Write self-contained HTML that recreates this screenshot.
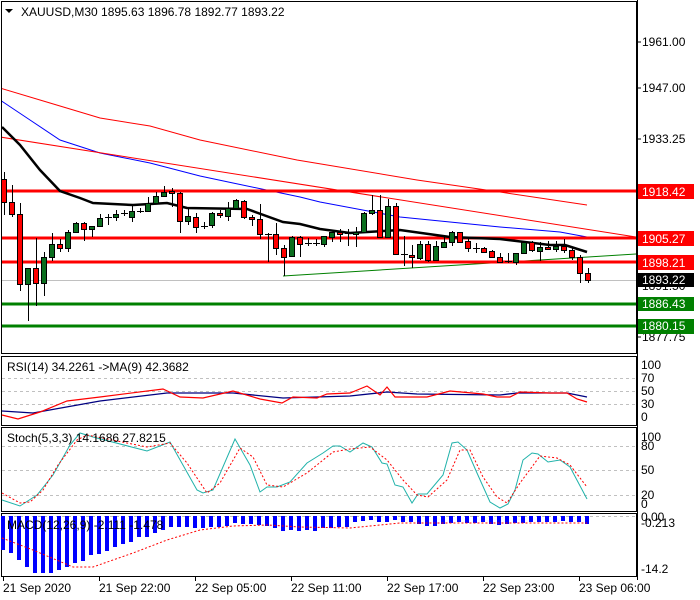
<!DOCTYPE html>
<html><head><meta charset="utf-8"><style>
html,body{margin:0;padding:0;background:#fff;}
svg{display:block;font-family:"Liberation Sans",sans-serif;font-size:12px;}
</style></head><body>
<svg width="700" height="600" viewBox="0 0 700 600" xmlns="http://www.w3.org/2000/svg">
<rect width="700" height="600" fill="#fff"/>
<defs><clipPath id="cm"><rect x="2" y="2" width="634" height="351"/></clipPath></defs>
<rect x="1.5" y="1.5" width="635" height="352" fill="none" stroke="#000"/>
<rect x="1.5" y="356.5" width="635" height="69" fill="none" stroke="#000"/>
<rect x="1.5" y="427.5" width="635" height="84" fill="none" stroke="#000"/>
<rect x="1.5" y="513.5" width="635" height="63" fill="none" stroke="#000"/>
<line x1="637.5" y1="0" x2="637.5" y2="580" stroke="#000"/>
<g clip-path="url(#cm)">
<polyline fill="none" stroke="#ff0000" stroke-width="1" points="0,88 50,103 100,118 150,126 200,140 297,160 417,180 500,192 587,205"/>
<polyline fill="none" stroke="#0000ff" stroke-width="1" points="0,100 30,120 60,140 100,153 150,163 200,176 233,183 300,197 320,202 400,217 500,227 560,232 587,237"/>
<line x1="0" y1="137" x2="636" y2="237" stroke="#ff0000" stroke-width="1"/>
<line x1="283" y1="276" x2="636" y2="254" stroke="#008000" stroke-width="1"/>
<line x1="2" y1="280.5" x2="636" y2="280.5" stroke="#c0c0c0"/>
<line x1="2" y1="191" x2="636" y2="191" stroke="#ff0000" stroke-width="3"/>
<line x1="2" y1="238" x2="636" y2="238" stroke="#ff0000" stroke-width="3"/>
<line x1="2" y1="262" x2="636" y2="262" stroke="#ff0000" stroke-width="3"/>
<line x1="2" y1="304" x2="636" y2="304" stroke="#008000" stroke-width="3"/>
<line x1="2" y1="326" x2="636" y2="326" stroke="#008000" stroke-width="3"/>
<polyline fill="none" stroke="#000" stroke-width="2.5" points="2,127 20,145 40,170 60,191 80,198 93,203 133,205 167,203 187,208 247,209 283,222 300,224 320,229 350,233 400,230 450,237 500,239 550,245 565,245 587,252"/>
<path fill="none" stroke="#000" stroke-width="1" d="M4.5 172V215M12.5 185V217M20.5 203V291M28.5 268V321M36.5 238V306M44.5 252V296M52.5 233V261M60.5 239V252M68.5 230V252M76.5 222V233M84.5 222V241M92.5 226V237M100.5 214V226M108.5 214V225M116.5 210V221M124.5 210V216M132.5 204V222M140.5 208V213M148.5 197V212M156.5 192V204M164.5 186V197M172.5 188V207M180.5 192V233M188.5 207V225M196.5 213V233M204.5 222V229M212.5 212V228M220.5 210V218M228.5 202V221M236.5 199V209M244.5 200V219M252.5 215V226M260.5 204V239M268.5 233V262M276.5 223V255M284.5 245V276M292.5 236V257M300.5 236V257M308.5 238V246M316.5 239V246M324.5 236V247M332.5 232V242M340.5 229V242M348.5 229V246M356.5 227V247M364.5 212V233M372.5 195V215M380.5 195V237M388.5 199V237M396.5 203V255M404.5 236V266M412.5 245V268M420.5 241V260M428.5 241V262M436.5 241V260M444.5 237V248M452.5 231V246M460.5 232V243M468.5 237V252M476.5 243V253M484.5 247V253M492.5 250V258M500.5 253V263M508.5 253V263M516.5 253V265M524.5 241V254M532.5 241V252M540.5 242V261M548.5 241V250M556.5 241V252M564.5 239V253M572.5 248V260M580.5 255V283M588.5 268V283
M105 217.5H112M137 211.5H144M121 213.5H128M201 226.5H208M265 234.5H272M305 243.5H312M313 243.5H320M345 233.5H352M401 254.5H408M473 248.5H480M505 261.5H512"/>
<g fill="#ff0000" stroke="#000" stroke-width="1">
<rect x="1.5" y="179.5" width="5" height="23"/>
<rect x="9.5" y="202.5" width="5" height="12"/>
<rect x="17.5" y="214.5" width="5" height="70"/>
<rect x="33.5" y="268.5" width="5" height="15"/>
<rect x="57.5" y="244.5" width="5" height="4"/>
<rect x="81.5" y="223.5" width="5" height="6"/>
<rect x="169.5" y="191.5" width="5" height="2"/>
<rect x="177.5" y="193.5" width="5" height="28"/>
<rect x="193.5" y="217.5" width="5" height="10"/>
<rect x="217.5" y="213.5" width="5" height="2"/>
<rect x="241.5" y="201.5" width="5" height="16"/>
<rect x="249.5" y="217.5" width="5" height="2"/>
<rect x="257.5" y="219.5" width="5" height="15"/>
<rect x="273.5" y="234.5" width="5" height="14"/>
<rect x="281.5" y="248.5" width="5" height="9"/>
<rect x="297.5" y="237.5" width="5" height="7"/>
<rect x="337.5" y="232.5" width="5" height="2"/>
<rect x="377.5" y="210.5" width="5" height="27"/>
<rect x="393.5" y="206.5" width="5" height="48"/>
<rect x="409.5" y="255.5" width="5" height="2"/>
<rect x="425.5" y="244.5" width="5" height="16"/>
<rect x="457.5" y="232.5" width="5" height="10"/>
<rect x="465.5" y="241.5" width="5" height="7"/>
<rect x="481.5" y="248.5" width="5" height="4"/>
<rect x="489.5" y="251.5" width="5" height="6"/>
<rect x="497.5" y="257.5" width="5" height="5"/>
<rect x="529.5" y="242.5" width="5" height="8"/>
<rect x="545.5" y="247.5" width="5" height="2"/>
<rect x="561.5" y="246.5" width="5" height="4"/>
<rect x="569.5" y="250.5" width="5" height="7"/>
<rect x="577.5" y="257.5" width="5" height="16"/>
<rect x="585.5" y="273.5" width="5" height="7"/>
</g>
<g fill="#0a6e1e" stroke="#000" stroke-width="1">
<rect x="25.5" y="268.5" width="5" height="16"/>
<rect x="41.5" y="257.5" width="5" height="26"/>
<rect x="49.5" y="244.5" width="5" height="13"/>
<rect x="65.5" y="232.5" width="5" height="16"/>
<rect x="73.5" y="223.5" width="5" height="9"/>
<rect x="89.5" y="226.5" width="5" height="3"/>
<rect x="97.5" y="218.5" width="5" height="8"/>
<rect x="113.5" y="214.5" width="5" height="3"/>
<rect x="129.5" y="211.5" width="5" height="6"/>
<rect x="145.5" y="203.5" width="5" height="8"/>
<rect x="153.5" y="196.5" width="5" height="7"/>
<rect x="161.5" y="192.5" width="5" height="4"/>
<rect x="185.5" y="216.5" width="5" height="5"/>
<rect x="209.5" y="213.5" width="5" height="12"/>
<rect x="225.5" y="208.5" width="5" height="8"/>
<rect x="233.5" y="200.5" width="5" height="8"/>
<rect x="289.5" y="237.5" width="5" height="19"/>
<rect x="321.5" y="236.5" width="5" height="8"/>
<rect x="329.5" y="232.5" width="5" height="5"/>
<rect x="353.5" y="232.5" width="5" height="2"/>
<rect x="361.5" y="213.5" width="5" height="19"/>
<rect x="369.5" y="210.5" width="5" height="3"/>
<rect x="385.5" y="206.5" width="5" height="31"/>
<rect x="417.5" y="244.5" width="5" height="14"/>
<rect x="433.5" y="246.5" width="5" height="14"/>
<rect x="441.5" y="242.5" width="5" height="5"/>
<rect x="449.5" y="232.5" width="5" height="10"/>
<rect x="513.5" y="253.5" width="5" height="9"/>
<rect x="521.5" y="242.5" width="5" height="11"/>
<rect x="537.5" y="247.5" width="5" height="4"/>
<rect x="553.5" y="246.5" width="5" height="3"/>
</g>
</g>
<path d="M5 9h8l-4 4z" fill="#000"/>
<text x="21" y="16" fill="#000">XAUUSD,M30  1895.63 1896.78 1892.77 1893.22</text>
<g fill="#000">
<text x="642" y="46">1961.00</text>
<text x="642" y="92">1947.00</text>
<text x="642" y="143">1933.25</text>
<text x="642" y="290">1891.50</text>
<text x="642" y="341">1877.75</text>
</g>
<g stroke="#000"><path d="M637 42h4M637 88h4M637 139h4M637 286h4M637 337h4"/></g>
<rect x="638" y="184" width="56" height="15" fill="#ff0000"/><text x="642" y="196" fill="#fff">1918.42</text>
<rect x="638" y="231" width="56" height="15" fill="#ff0000"/><text x="642" y="243" fill="#fff">1905.27</text>
<rect x="638" y="255" width="56" height="15" fill="#ff0000"/><text x="642" y="267" fill="#fff">1898.21</text>
<rect x="638" y="273" width="56" height="14" fill="#000"/><text x="642" y="284" fill="#fff">1893.22</text>
<rect x="638" y="297" width="56" height="14" fill="#008000"/><text x="642" y="308" fill="#fff">1886.43</text>
<rect x="638" y="319" width="56" height="15" fill="#008000"/><text x="642" y="330" fill="#fff">1880.15</text>
<g stroke="#c0c0c0" stroke-dasharray="3,3"><path d="M2 378.5H636M2 391.5H636M2 404.5H636"/></g>
<polyline fill="none" stroke="#000080" stroke-width="1.3" points="2,411 33,413 100,401 167,393 233,393 283,398 350,396 387,392 417,394 500,395 517,393 567,393 587,397"/>
<polyline fill="none" stroke="#ff0000" stroke-width="1.2" points="2,415 18,419 40,412 67,401 100,397 163,389 180,397 203,398 233,391 260,399 282,403 293,397 317,398 327,394 350,393 367,386 380,395 387,387 395,397 413,397 427,397 450,391 483,394 497,397 510,397 520,392 550,393 567,393 577,399 587,402"/>
<text x="7" y="371" fill="#000">RSI(14) 34.2261  -&gt;MA(9) 42.3682</text>
<g fill="#000"><text x="641" y="369">100</text><text x="641" y="382">70</text><text x="641" y="395">50</text><text x="641" y="408">30</text><text x="641" y="421">0</text></g>
<g stroke="#c0c0c0" stroke-dasharray="3,3"><path d="M2 446.5H636M2 470.5H636M2 495.5H636"/></g>
<polyline fill="none" stroke="#20b2aa" stroke-width="1" points="2,500 20,506 37,495 53,475 70,445 80,433 93,437 147,451 170,442 197,490 203,493 213,490 235,439 250,465 260,492 267,487 277,487 290,482 307,463 323,453 333,446 340,446 350,452 363,443 372,447 382,463 387,464 395,485 403,487 412,503 418,494 427,494 443,475 452,443 458,442 467,450 477,473 490,502 500,508 508,504 515,490 523,460 532,453 538,454 548,462 560,460 570,467 587,499"/>
<polyline fill="none" stroke="#ff0000" stroke-width="1" stroke-dasharray="2,2" points="2,493 20,503 30,502 43,490 58,465 77,440 87,435 147,447 170,443 187,463 207,493 220,483 240,448 253,457 267,485 283,487 307,473 333,452 350,449 370,447 387,460 403,480 417,495 428,497 447,480 460,450 470,450 483,477 497,497 507,503 520,483 540,456 557,458 570,465 587,487"/>
<text x="7" y="442" fill="#000">Stoch(5,3,3) 14.1686 27.8215</text>
<g fill="#000"><text x="641" y="441">100</text><text x="641" y="450">80</text><text x="641" y="474">50</text><text x="641" y="499">20</text><text x="641" y="508">0</text></g>
<line x1="2" y1="516.5" x2="636" y2="516.5" stroke="#c0c0c0" stroke-dasharray="3,3"/>
<path fill="none" stroke="#0000ff" stroke-width="4" d="M3 516V550M11 516V553M19 516V560M27 516V567M35 516V573M43 516V573M51 516V573M59 516V570M67 516V567M75 516V563M83 516V561M91 516V555M99 516V554M107 516V551M115 516V547M123 516V544M131 516V542M139 516V537M147 516V537M155 516V533M163 516V530M171 516V527M179 516V527M187 516V527M195 516V528M203 516V528M211 516V527M219 516V527M227 516V526M235 516V523M243 516V524M251 516V524M259 516V525M267 516V526M275 516V528M283 516V531M291 516V530M299 516V531M307 516V530M315 516V531M323 516V528M331 516V528M339 516V527M347 516V527M355 516V522M363 516V521M371 516V520M379 516V522M387 516V522M395 516V520M403 516V522M411 516V522M419 516V524M427 516V526M435 516V526M443 516V524M451 516V523M459 516V522M467 516V523M475 516V523M483 516V522M491 516V524M499 516V525M507 516V524M515 516V523M523 516V523M531 516V522M539 516V522M547 516V522M555 516V522M563 516V521M571 516V522M579 516V522M587 516V524"/>
<polyline fill="none" stroke="#ff0000" stroke-width="1" stroke-dasharray="2,2" points="2,538 33,550 73,567 93,567 133,553 167,540 200,530 233,526 267,525 300,527 350,528 400,523 467,523 587,523"/>
<text x="7" y="529" fill="#000">MACD(12,26,9) -2.111 -1.478</text>
<g fill="#000"><text x="641" y="521">0.00</text><text x="641" y="527">-0.213</text><text x="641" y="573">-14.2</text></g>
<g stroke="#000"><path d="M3.5 576V581M99.5 576V581M195.5 576V581M291.5 576V581M387.5 576V581M483.5 576V581M579.5 576V581"/></g>
<g fill="#000">
<text x="3" y="592">21 Sep 2020</text>
<text x="99" y="592">21 Sep 22:00</text>
<text x="195" y="592">22 Sep 05:00</text>
<text x="291" y="592">22 Sep 11:00</text>
<text x="387" y="592">22 Sep 17:00</text>
<text x="483" y="592">22 Sep 23:00</text>
<text x="579" y="592">23 Sep 06:00</text>
</g>
</svg>
</body></html>
